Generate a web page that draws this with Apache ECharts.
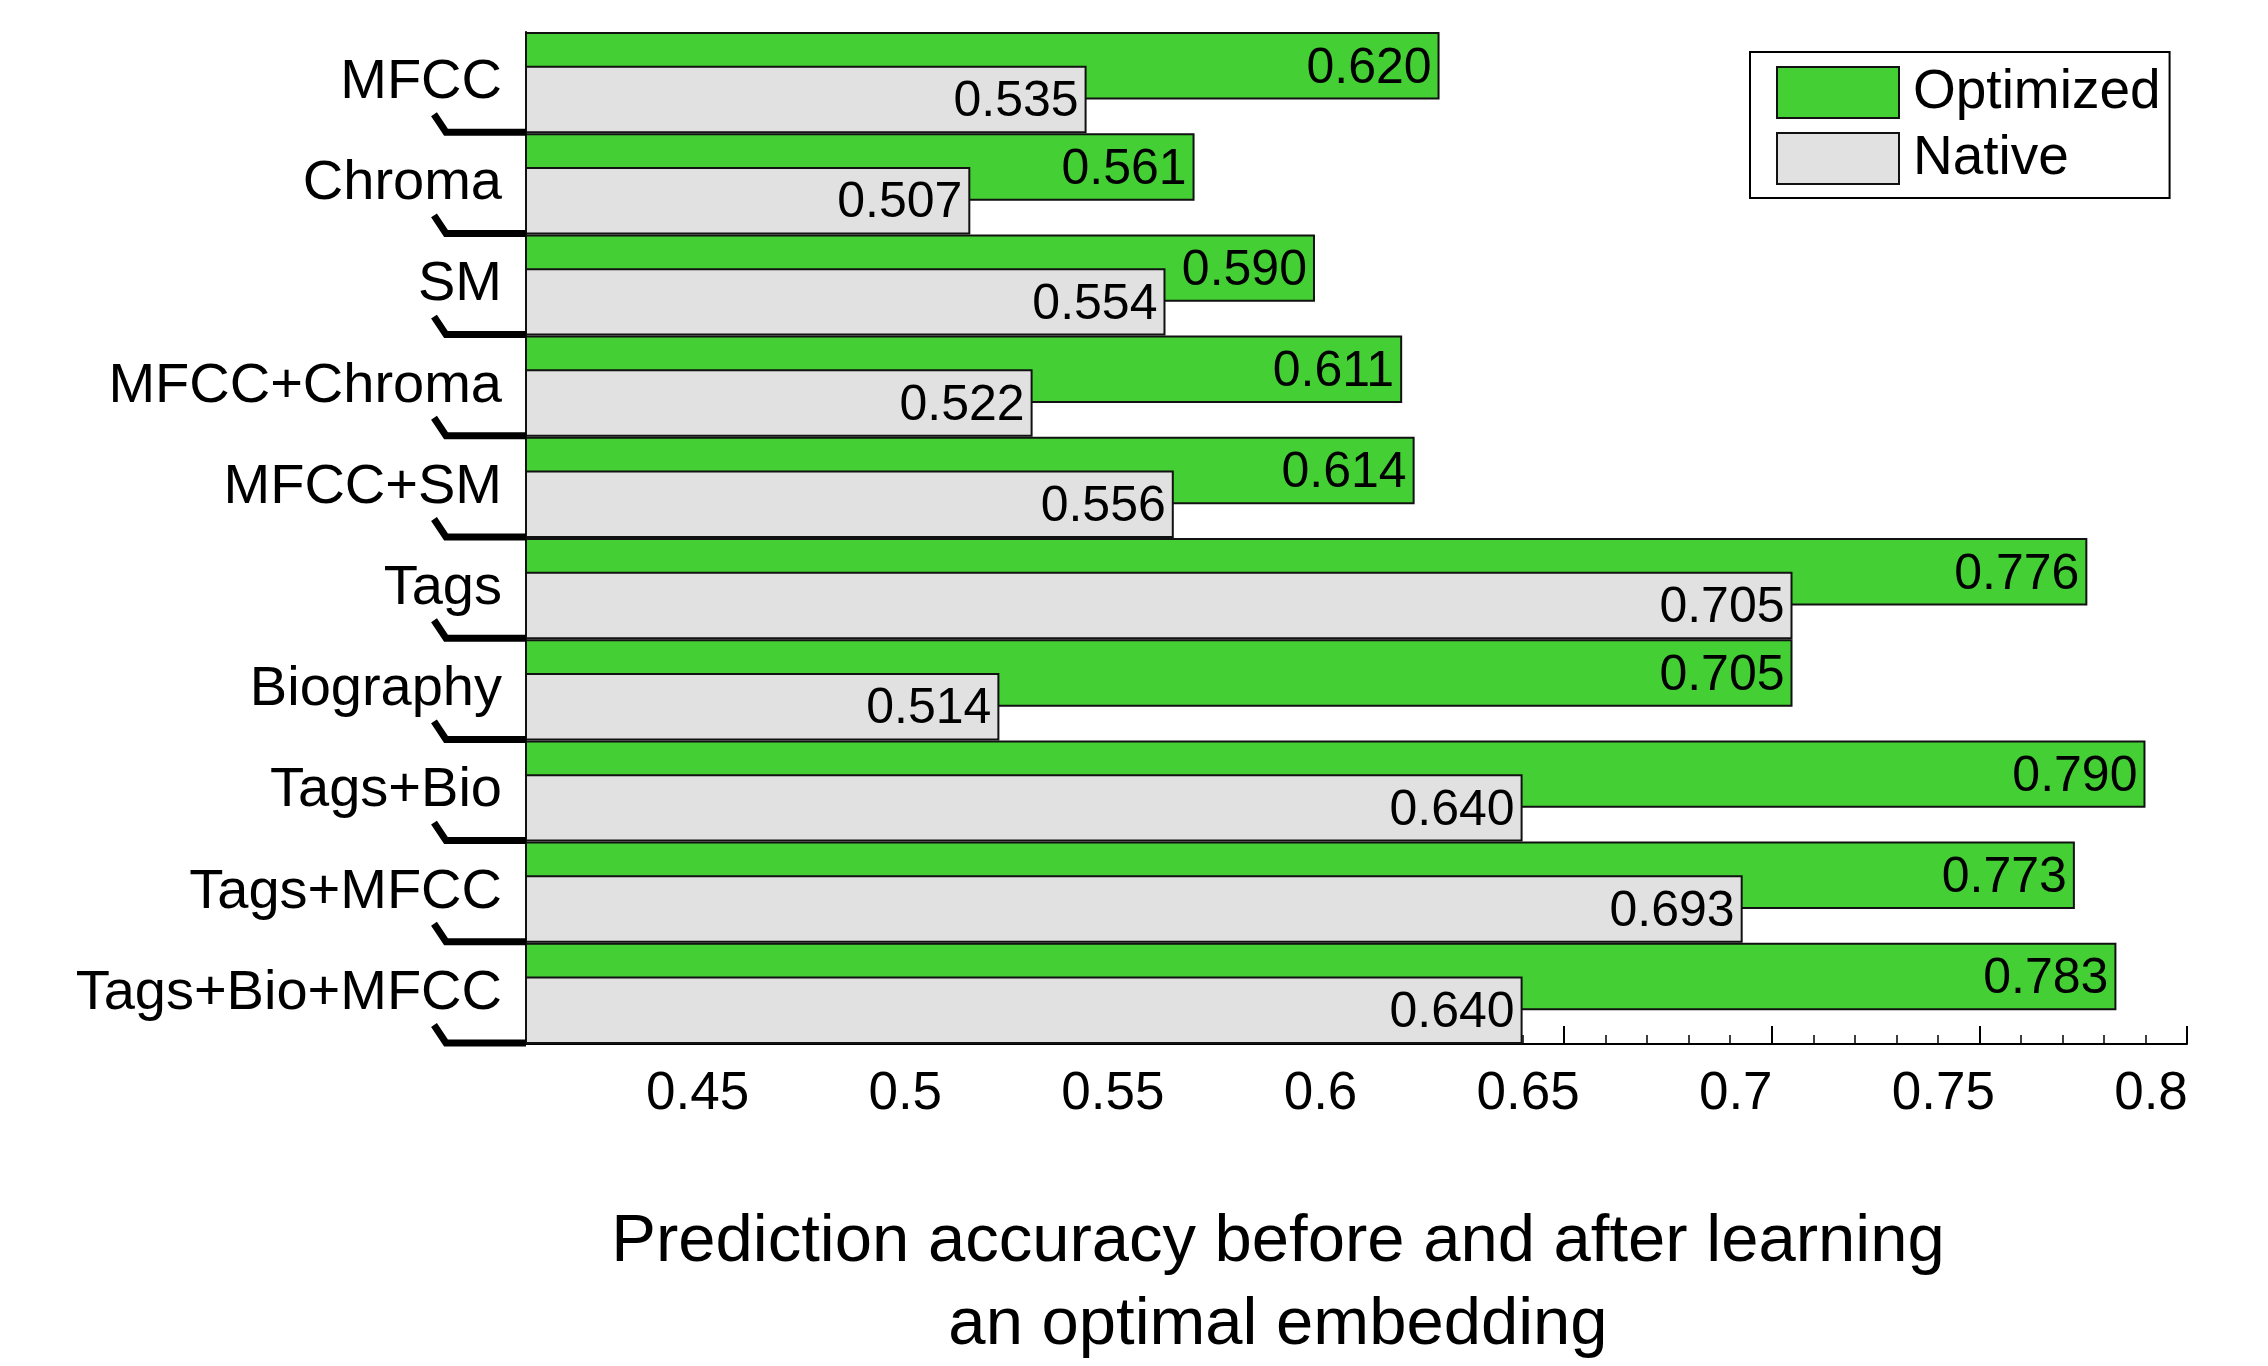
<!DOCTYPE html>
<html>
<head>
<meta charset="utf-8">
<script src="https://cdn.jsdelivr.net/npm/echarts@6/dist/echarts.min.js"></script>
<style>
html,body{margin:0;padding:0;background:#fff;}
#chart{width:2268px;height:1366px;}
</style>
</head>
<body>
<div id="chart"></div>
<script>
const categories = ["MFCC","Chroma","SM","MFCC+Chroma","MFCC+SM","Tags","Biography","Tags+Bio","Tags+MFCC","Tags+Bio+MFCC"];
const optimized = [0.620,0.561,0.590,0.611,0.614,0.776,0.705,0.790,0.773,0.783];
const native = [0.535,0.507,0.554,0.522,0.556,0.705,0.514,0.640,0.693,0.640];
const seriesNames = ["Optimized","Native"];
const xMin = 0.4, xMax = 0.8, xStep = 0.05;
const titleLines = ["Prediction accuracy before and after learning","an optimal embedding"];

const FONT = '"Liberation Sans", Arial, Helvetica, sans-serif';
const chart = echarts.init(document.getElementById('chart'));

const labelCfg = {
  show: true, position: 'insideRight', distance: 8, offset: [0, 3],
  color: '#000', fontSize: 50, fontFamily: FONT,
  formatter: p => p.value.toFixed(3)
};

chart.setOption({
  backgroundColor: '#fff',
  animation: false,
  title: {
    text: titleLines.join('\n'),
    left: 1273, top: 1196, textAlign: 'center',
    textStyle: {fontFamily: FONT, fontSize: 67, fontWeight: 'normal', color: '#000', lineHeight: 83}
  },
  legend: {
    data: seriesNames.map(n => ({name: n, icon: 'rect'})),
    orient: 'vertical',
    left: 1750, top: 52,
    borderColor: '#000', borderWidth: 2,
    padding: [13, 9, 12, 26],
    itemWidth: 122, itemHeight: 51, itemGap: 11,
    textStyle: {fontFamily: FONT, fontSize: 55, color: '#000', padding: [0,0,0,9]}
  },
  grid: {left: 526, right: 81, top: 32, height: 1012, containLabel: false},
  xAxis: {
    type: 'value', min: xMin, max: xMax, interval: xStep,
    splitLine: {show: false},
    axisLine: {show: true, lineStyle: {color: '#000', width: 2}},
    axisTick: {show: true, inside: true, length: 18, lineStyle: {color: '#000', width: 2}},
    minorTick: {show: true, splitNumber: 5, length: 9, lineStyle: {color: '#000', width: 1.5}},
    axisLabel: {
      showMinLabel: false, margin: 24,
      fontFamily: FONT, fontSize: 53, color: '#000',
      padding: [0, 72, 0, 0],
      formatter: v => String(parseFloat(v.toFixed(2)))
    }
  },
  yAxis: {
    type: 'category', data: categories, inverse: true,
    axisLine: {show: true, lineStyle: {color: '#000', width: 2}},
    axisTick: {show: false},
    axisLabel: {fontFamily: FONT, fontSize: 56, color: '#000', margin: 24, padding: [6, 0, 0, 0]}
  },
  series: [
    {
      name: seriesNames[0], type: 'bar', data: optimized,
      barWidth: '66.67%', barGap: '-50%',
      itemStyle: {color: '#44d035', borderColor: '#111', borderWidth: 2},
      label: labelCfg, z: 2
    },
    {
      name: seriesNames[1], type: 'bar', data: native,
      barWidth: '66.67%', barGap: '-50%',
      itemStyle: {color: '#e1e1e1', borderColor: '#111', borderWidth: 2},
      label: labelCfg, z: 3
    },
    {
      name: 'brackets', type: 'custom', clip: false, silent: true, z: 4,
      data: categories.map((c, i) => [xMin, i]),
      encode: {x: 0, y: 1},
      renderItem: function (params, api) {
        const p = api.coord([api.value(0), api.value(1)]);
        const band = api.size([0, 1])[1];
        const yb = p[1] + band / 2;
        return {
          type: 'polyline',
          shape: {points: [[p[0], yb - 1], [p[0] - 80, yb - 1], [p[0] - 92, yb - 19]]},
          style: {stroke: '#000', lineWidth: 7, fill: null, lineJoin: 'miter'}
        };
      }
    }
  ]
});
</script>
</body>
</html>
